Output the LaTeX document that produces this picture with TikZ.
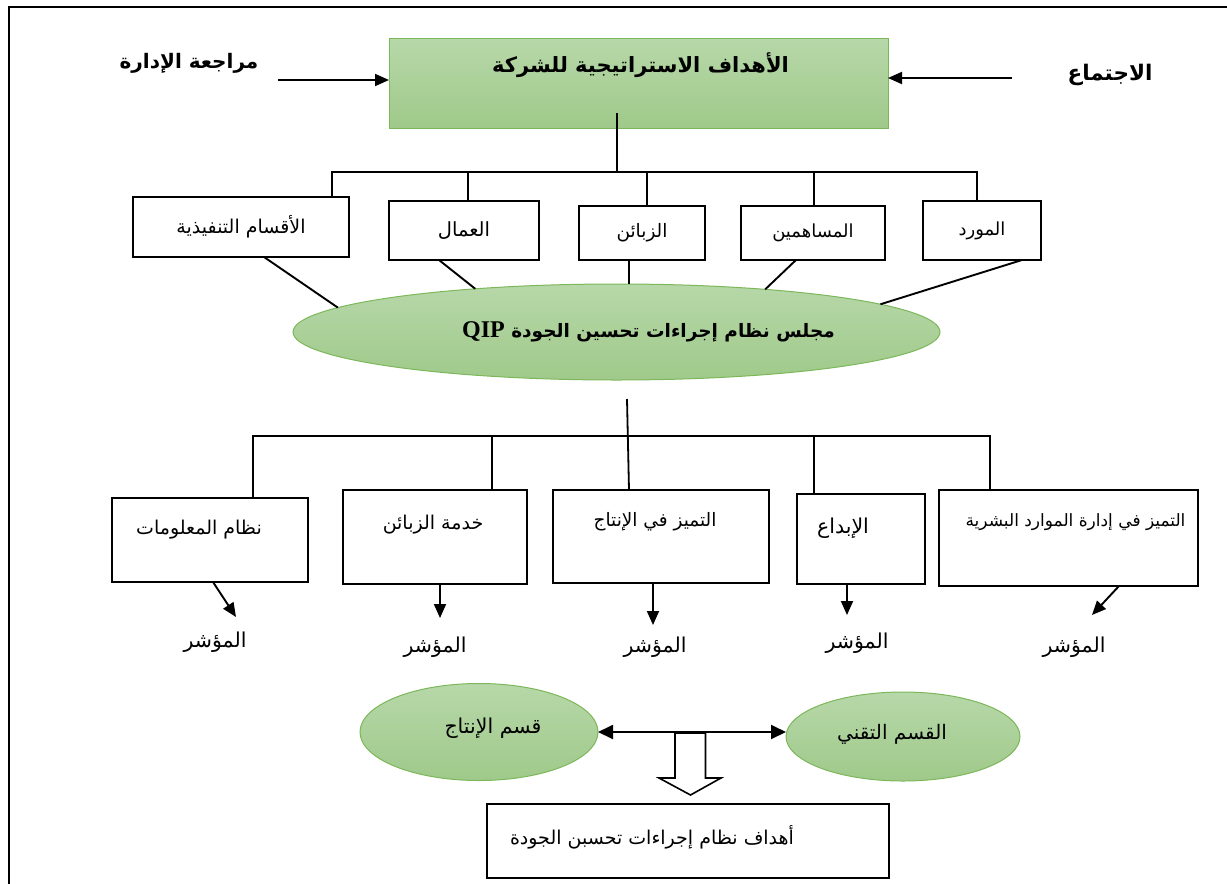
\documentclass[tikz,border=0pt]{standalone}
\usepackage{fontspec}
\setmainfont{Liberation Serif}
\newfontfamily\arabicfont[Script=Arabic]{DejaVu Sans}
\TeXXeTstate=1
\usetikzlibrary{arrows.meta,shapes.geometric}
\definecolor{gtop}{HTML}{B7D8A9}
\definecolor{gbot}{HTML}{9FC98A}
\definecolor{gedge}{HTML}{7CB75A}

\begin{document}
\begin{tikzpicture}[x=1pt,y=-1pt,
  every node/.style={inner sep=0pt, outer sep=0pt},
  frame/.style={line width=2.4pt},
  plainbox/.style={draw, line width=1.7pt, fill=white, rectangle},
  greenbox/.style={draw=gedge, line width=1pt, top color=gtop, bottom color=gbot, rectangle},
  greenoval/.style={draw=gedge, line width=1pt, top color=gtop, bottom color=gbot, ellipse},
  reg/.style={font=\arabicfont\fontsize{19}{22}\selectfont},
  sz/.style={font=\arabicfont\fontsize{#1}{22}\selectfont},
  bld/.style={font=\arabicfont\bfseries\fontsize{#1}{24}\selectfont},
  inlbl/.style={reg, anchor=center},
  link/.style={line width=1.9pt},
  tree/.style={line width=1.8pt},
  arr/.style={line width=1.9pt, -{Triangle[length=14pt,width=12pt]}},
  dbl/.style={line width=1.9pt, {Triangle[length=15pt,width=14pt]}-{Triangle[length=15pt,width=14pt]}},
  hollow/.style={line width=1.6pt, fill=white, line join=miter},
]
\useasboundingbox (0,0) rectangle (1227,884);

% outer frame
\draw[frame] (9,884) -- (9,7) -- (1227,7);

% strategic goals and its two inputs
\node[greenbox, minimum width=499pt, minimum height=90pt,
  label={[bld=21, anchor=center, xshift=2pt, yshift=-27pt]north:{\beginR الأهداف الاستراتيجية للشركة\endR}}]
  (goals) at (638.5,83) {};
\node[bld=20] (review) at (189,63) {\beginR مراجعة الإدارة\endR};
\node[bld=21.5] (meeting) at (1110,75) {\beginR الاجتماع\endR};
\coordinate (rvw) at (278,80);
\coordinate (mtg) at (1012,78);
\draw[arr] (rvw) -- (goals.west |- rvw);
\draw[arr] (mtg) -- (goals.east |- mtg);

% stakeholder boxes
\node[plainbox, sz=19, minimum width=216pt, minimum height=60pt] (aqsam) at (241,227) {\beginR الأقسام التنفيذية\endR};
\node[plainbox, sz=19.5, minimum width=150pt, minimum height=59pt] (ummal) at (464,230.5) {\beginR العمال\endR};
\node[plainbox, sz=18.5, minimum width=126.5pt, minimum height=54pt] (zabaen) at (642,233) {\beginR الزبائن\endR};
\node[plainbox, sz=18, minimum width=143.5pt, minimum height=54pt] (musahim) at (813,233) {\beginR المساهمين\endR};
\node[plainbox, sz=18, minimum width=118pt, minimum height=59pt] (mawrid) at (982,230.5) {\beginR المورد\endR};

% upper tree
\coordinate (hubU) at (617,172);
\draw[tree] ([xshift=-21.5pt,yshift=15pt]goals.south) -- (hubU);
\draw[tree] ([xshift=91pt]aqsam.north) |- ([xshift=-5pt]mawrid.north |- hubU) -- ([xshift=-5pt]mawrid.north);
\draw[tree] ([xshift=4pt]ummal.north |- hubU) -- ([xshift=4pt]ummal.north);
\draw[tree] ([xshift=5pt]zabaen.north |- hubU) -- ([xshift=5pt]zabaen.north);
\draw[tree] ([xshift=1pt]musahim.north |- hubU) -- ([xshift=1pt]musahim.north);

% QIP council
\node[greenoval, minimum width=647pt, minimum height=96pt,
  label={[bld=18.5, anchor=center, xshift=32pt, yshift=0pt]center:{\beginR مجلس نظام إجراءات تحسين الجودة \beginL{\rmfamily\bfseries\fontsize{24}{26}\selectfont QIP}\endL\endR}}]
  (qip) at (616.5,332) {};

\draw[link] ([xshift=23pt]aqsam.south) -- (qip.175);
\draw[link] ([xshift=-25pt]ummal.south) -- (qip.163);
\draw[link] ([xshift=-13pt]zabaen.south) -- ([xshift=-13pt]zabaen.south |- qip.north);
\draw[link] ([xshift=-17pt]musahim.south) -- (qip.16);
\draw[link] ([xshift=40pt]mawrid.south) -- (qip.6);

% quality areas
\node[plainbox, minimum width=196pt, minimum height=84pt,
  label={[inlbl, xshift=-11pt, yshift=-32pt]north:{\beginR نظام المعلومات\endR}}] (nidham) at (210,540) {};
\node[plainbox, minimum width=184pt, minimum height=94pt,
  label={[inlbl, xshift=-2pt, yshift=-35pt]north:{\beginR خدمة الزبائن\endR}}] (khidma) at (435,537) {};
\node[plainbox, minimum width=216pt, minimum height=93pt,
  label={[inlbl, sz=18.5, xshift=-6pt, yshift=-32pt]north:{\beginR التميز في الإنتاج\endR}}] (intaj) at (661,536.5) {};
\node[plainbox, minimum width=127.5pt, minimum height=90pt,
  label={[inlbl, sz=20.5, xshift=-18pt, yshift=-34pt]north:{\beginR الإبداع\endR}}] (ibda) at (861,539) {};
\node[plainbox, minimum width=259pt, minimum height=96pt,
  label={[inlbl, sz=17, xshift=7pt, yshift=-32pt]north:{\beginR التميز في إدارة الموارد البشرية\endR}}] (mawared) at (1068.5,538) {};

% lower tree
\coordinate (qipstem) at (627,399);
\coordinate (hubL) at (627,436);
\draw[tree] (qipstem) -- ([xshift=-32pt]intaj.north);
\draw[tree] ([xshift=43pt]nidham.north) |- ([xshift=-78.5pt]mawared.north |- hubL) -- ([xshift=-78.5pt]mawared.north);
\draw[tree] ([xshift=57pt]khidma.north |- hubL) -- ([xshift=57pt]khidma.north);
\draw[tree] ([xshift=-47pt]ibda.north |- hubL) -- ([xshift=-47pt]ibda.north);

% indicators
\node[sz=20.5] (m1) at (215,642) {\beginR المؤشر\endR};
\node[sz=20.5] (m2) at (435,647) {\beginR المؤشر\endR};
\node[sz=20.5] (m3) at (655,647) {\beginR المؤشر\endR};
\node[sz=20.5] (m4) at (857,643) {\beginR المؤشر\endR};
\node[sz=20.5] (m5) at (1074,647) {\beginR المؤشر\endR};
\coordinate (p1) at (236,617);
\coordinate (p2) at (440,618);
\coordinate (p3) at (653,625);
\coordinate (p4) at (847,615);
\coordinate (p5) at (1092,615);
\draw[arr] ([xshift=3pt]nidham.south) -- (p1);
\draw[arr] ([xshift=5pt]khidma.south) -- (p2);
\draw[arr] ([xshift=-8pt]intaj.south) -- (p3);
\draw[arr] ([xshift=-14pt]ibda.south) -- (p4);
\draw[arr] ([xshift=50.5pt]mawared.south) -- (p5);

% production and technical departments
\node[greenoval, minimum width=238pt, minimum height=97pt,
  label={[inlbl, sz=20.5, xshift=14pt, yshift=4pt]center:{\beginR قسم الإنتاج\endR}}] (prod) at (479,732) {};
\node[greenoval, minimum width=234pt, minimum height=89pt,
  label={[inlbl, sz=20, xshift=-11pt, yshift=2pt]center:{\beginR القسم التقني\endR}}] (tech) at (903,736.5) {};

% resulting objectives
\node[plainbox, minimum width=402.5pt, minimum height=74pt,
  label={[inlbl, xshift=-36pt, yshift=4pt]center:{\beginR أهداف نظام إجراءات تحسبن الجودة\endR}}] (obj) at (688,841) {};

\draw[hollow] (675,733) -- (675,778) -- (659,778) -- (690.5,795) -- (721,778) -- (705.5,778) -- (705.5,733) -- cycle;
\draw[dbl] (prod.east) -- (prod.east -| tech.west);
\end{tikzpicture}
\end{document}
